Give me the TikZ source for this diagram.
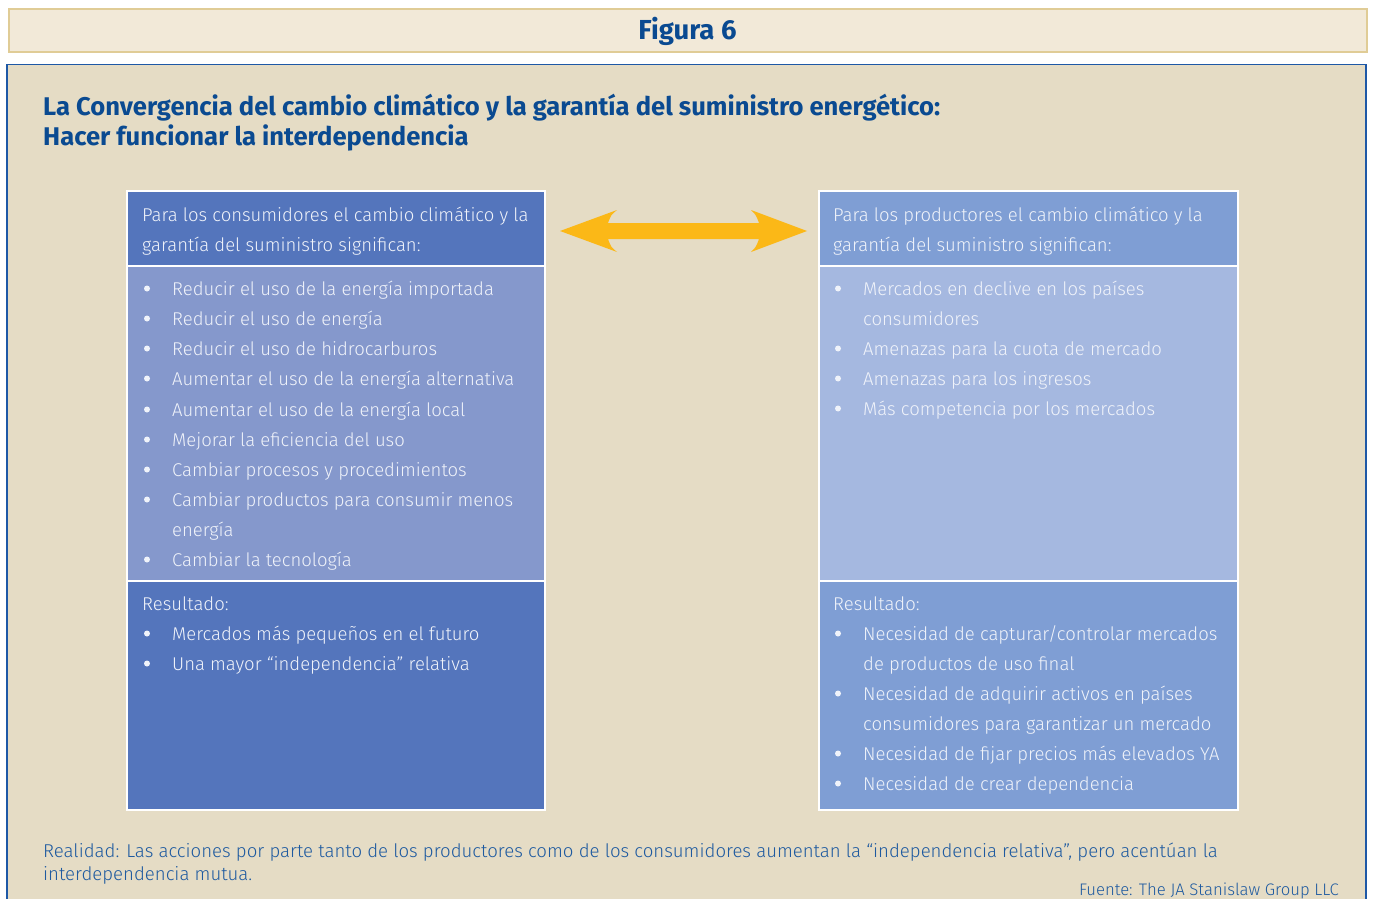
\documentclass[tikz,border=0pt]{standalone}
\usepackage{fontspec}
\setmainfont{Fira Sans Light}[BoldFont={Fira Sans Bold}]
\definecolor{barfill}{RGB}{242,233,216}
\definecolor{barline}{RGB}{224,204,150}
\definecolor{panel}{RGB}{229,220,197}
\definecolor{panelline}{RGB}{30,88,166}
\definecolor{titleblue}{RGB}{10,74,145}
\definecolor{noteblue}{RGB}{30,90,160}
\definecolor{consdark}{RGB}{84,117,188}
\definecolor{conslight}{RGB}{133,152,204}
\definecolor{proddark}{RGB}{127,158,212}
\definecolor{prodlight}{RGB}{165,184,224}
\definecolor{boxtext}{RGB}{240,243,250}
\definecolor{arrowgold}{RGB}{251,184,23}
\tikzset{
  section/.style={draw=white, line width=2pt},
  txt/.style={anchor=base west, inner sep=0pt, text=boxtext, font=\fontsize{18.5}{23}\selectfont},
  bul/.style={circle, fill=boxtext, inner sep=0pt, minimum size=6pt},
  headline/.style={anchor=base west, inner sep=0pt, text=titleblue, font=\fontsize{25.6}{30}\selectfont\bfseries},
  note/.style={anchor=base west, inner sep=0pt, text=noteblue, font=\fontsize{18.6}{23}\selectfont},
}
% one bulleted line: name, x of text block, baseline, text
\newcommand\bulletrow[4]{%
  \node[bul] (#1b) at (#2+5,#3-6.5) {};
  \node[txt] (#1) at (#2+30,#3) {#4};}
% continuation line of a bulleted item
\newcommand\controw[4]{\node[txt] (#1) at (#2+30,#3) {#4};}
\begin{document}
\begin{tikzpicture}[x=1pt,y=-1pt]
\useasboundingbox (0,0) rectangle (1373,899);
\clip (0,0) rectangle (1373,899);

% figure caption bar
\node[draw=barline, fill=barfill, line width=2pt, minimum width=1358pt, minimum height=43pt,
      anchor=north west, inner sep=0pt] (bar) at (7.5,8.5) {};
\node[text=titleblue, font=\fontsize{27.5}{30}\selectfont\bfseries] (fig) at (bar.center) {Figura 6};

% main panel
\draw[draw=panelline, fill=panel, line width=1.2pt] (7,920) -- (7,64.5) -- (1366,64.5) -- (1366,920);

\node[headline] (t1) at (43,115) {La Convergencia del cambio climático y la garantía del suministro energético:};
\node[headline] (t2) at (43,145) {Hacer funcionar la interdependencia};

% consumers column
\path[section, fill=consdark]  (127,191) rectangle (545,265.5);
\path[section, fill=conslight] (127,265.5) rectangle (545,580.5);
\path[section, fill=consdark]  (127,580.5) rectangle (545,810);

% producers column
\path[section, fill=proddark]  (819,191) rectangle (1238,265.5);
\path[section, fill=prodlight] (819,265.5) rectangle (1238,580.5);
\path[section, fill=proddark]  (819,580.5) rectangle (1238,810);

% double arrow between the two headers
\fill[arrowgold] (560,231) -- (617,210) .. controls (611,215) .. (608,223) -- (759,223)
  .. controls (756,215) .. (751,210) -- (807,231) -- (751,252)
  .. controls (756,247) .. (759,239) -- (608,239) .. controls (611,247) .. (617,252) -- cycle;

% consumers text
\node[txt] (ch1) at (142,221) {Para los consumidores el cambio climático y la};
\node[txt] (ch2) at (142,251) {garantía del suministro significan:};
\bulletrow{c1}{142}{295}{Reducir el uso de la energía importada}
\bulletrow{c2}{142}{325}{Reducir el uso de energía}
\bulletrow{c3}{142}{355}{Reducir el uso de hidrocarburos}
\bulletrow{c4}{142}{385}{Aumentar el uso de la energía alternativa}
\bulletrow{c5}{142}{416}{Aumentar el uso de la energía local}
\bulletrow{c6}{142}{446}{Mejorar la eficiencia del uso}
\bulletrow{c7}{142}{476}{Cambiar procesos y procedimientos}
\bulletrow{c8}{142}{506}{Cambiar productos para consumir menos}
\controw{c8x}{142}{536}{energía}
\bulletrow{c9}{142}{566}{Cambiar la tecnología}
\node[txt] (cr) at (142,610) {Resultado:};
\bulletrow{cr1}{142}{640}{Mercados más pequeños en el futuro}
\bulletrow{cr2}{142}{670}{Una mayor “independencia” relativa}

% producers text
\node[txt] (ph1) at (833,221) {Para los productores el cambio climático y la};
\node[txt] (ph2) at (833,251) {garantía del suministro significan:};
\bulletrow{p1}{833}{295}{Mercados en declive en los países}
\controw{p1x}{833}{325}{consumidores}
\bulletrow{p2}{833}{355}{Amenazas para la cuota de mercado}
\bulletrow{p3}{833}{385}{Amenazas para los ingresos}
\bulletrow{p4}{833}{415}{Más competencia por los mercados}
\node[txt] (pr) at (833,610) {Resultado:};
\bulletrow{pr1}{833}{640}{Necesidad de capturar/controlar mercados}
\controw{pr1x}{833}{670}{de productos de uso final}
\bulletrow{pr2}{833}{700}{Necesidad de adquirir activos en países}
\controw{pr2x}{833}{730}{consumidores para garantizar un mercado}
\bulletrow{pr3}{833}{760}{Necesidad de fijar precios más elevados YA}
\bulletrow{pr4}{833}{790}{Necesidad de crear dependencia}

% closing remark and source
\node[note] (r1) at (43,857) {Realidad: Las acciones por parte tanto de los productores como de los consumidores aumentan la “independencia relativa”, pero acentúan la};
\node[note] (r2) at (43,880) {interdependencia mutua.};
\node[note, anchor=base east, font=\fontsize{16.7}{20}\selectfont] (src) at (1339,895) {Fuente: The JA Stanislaw Group LLC};
\end{tikzpicture}
\end{document}
